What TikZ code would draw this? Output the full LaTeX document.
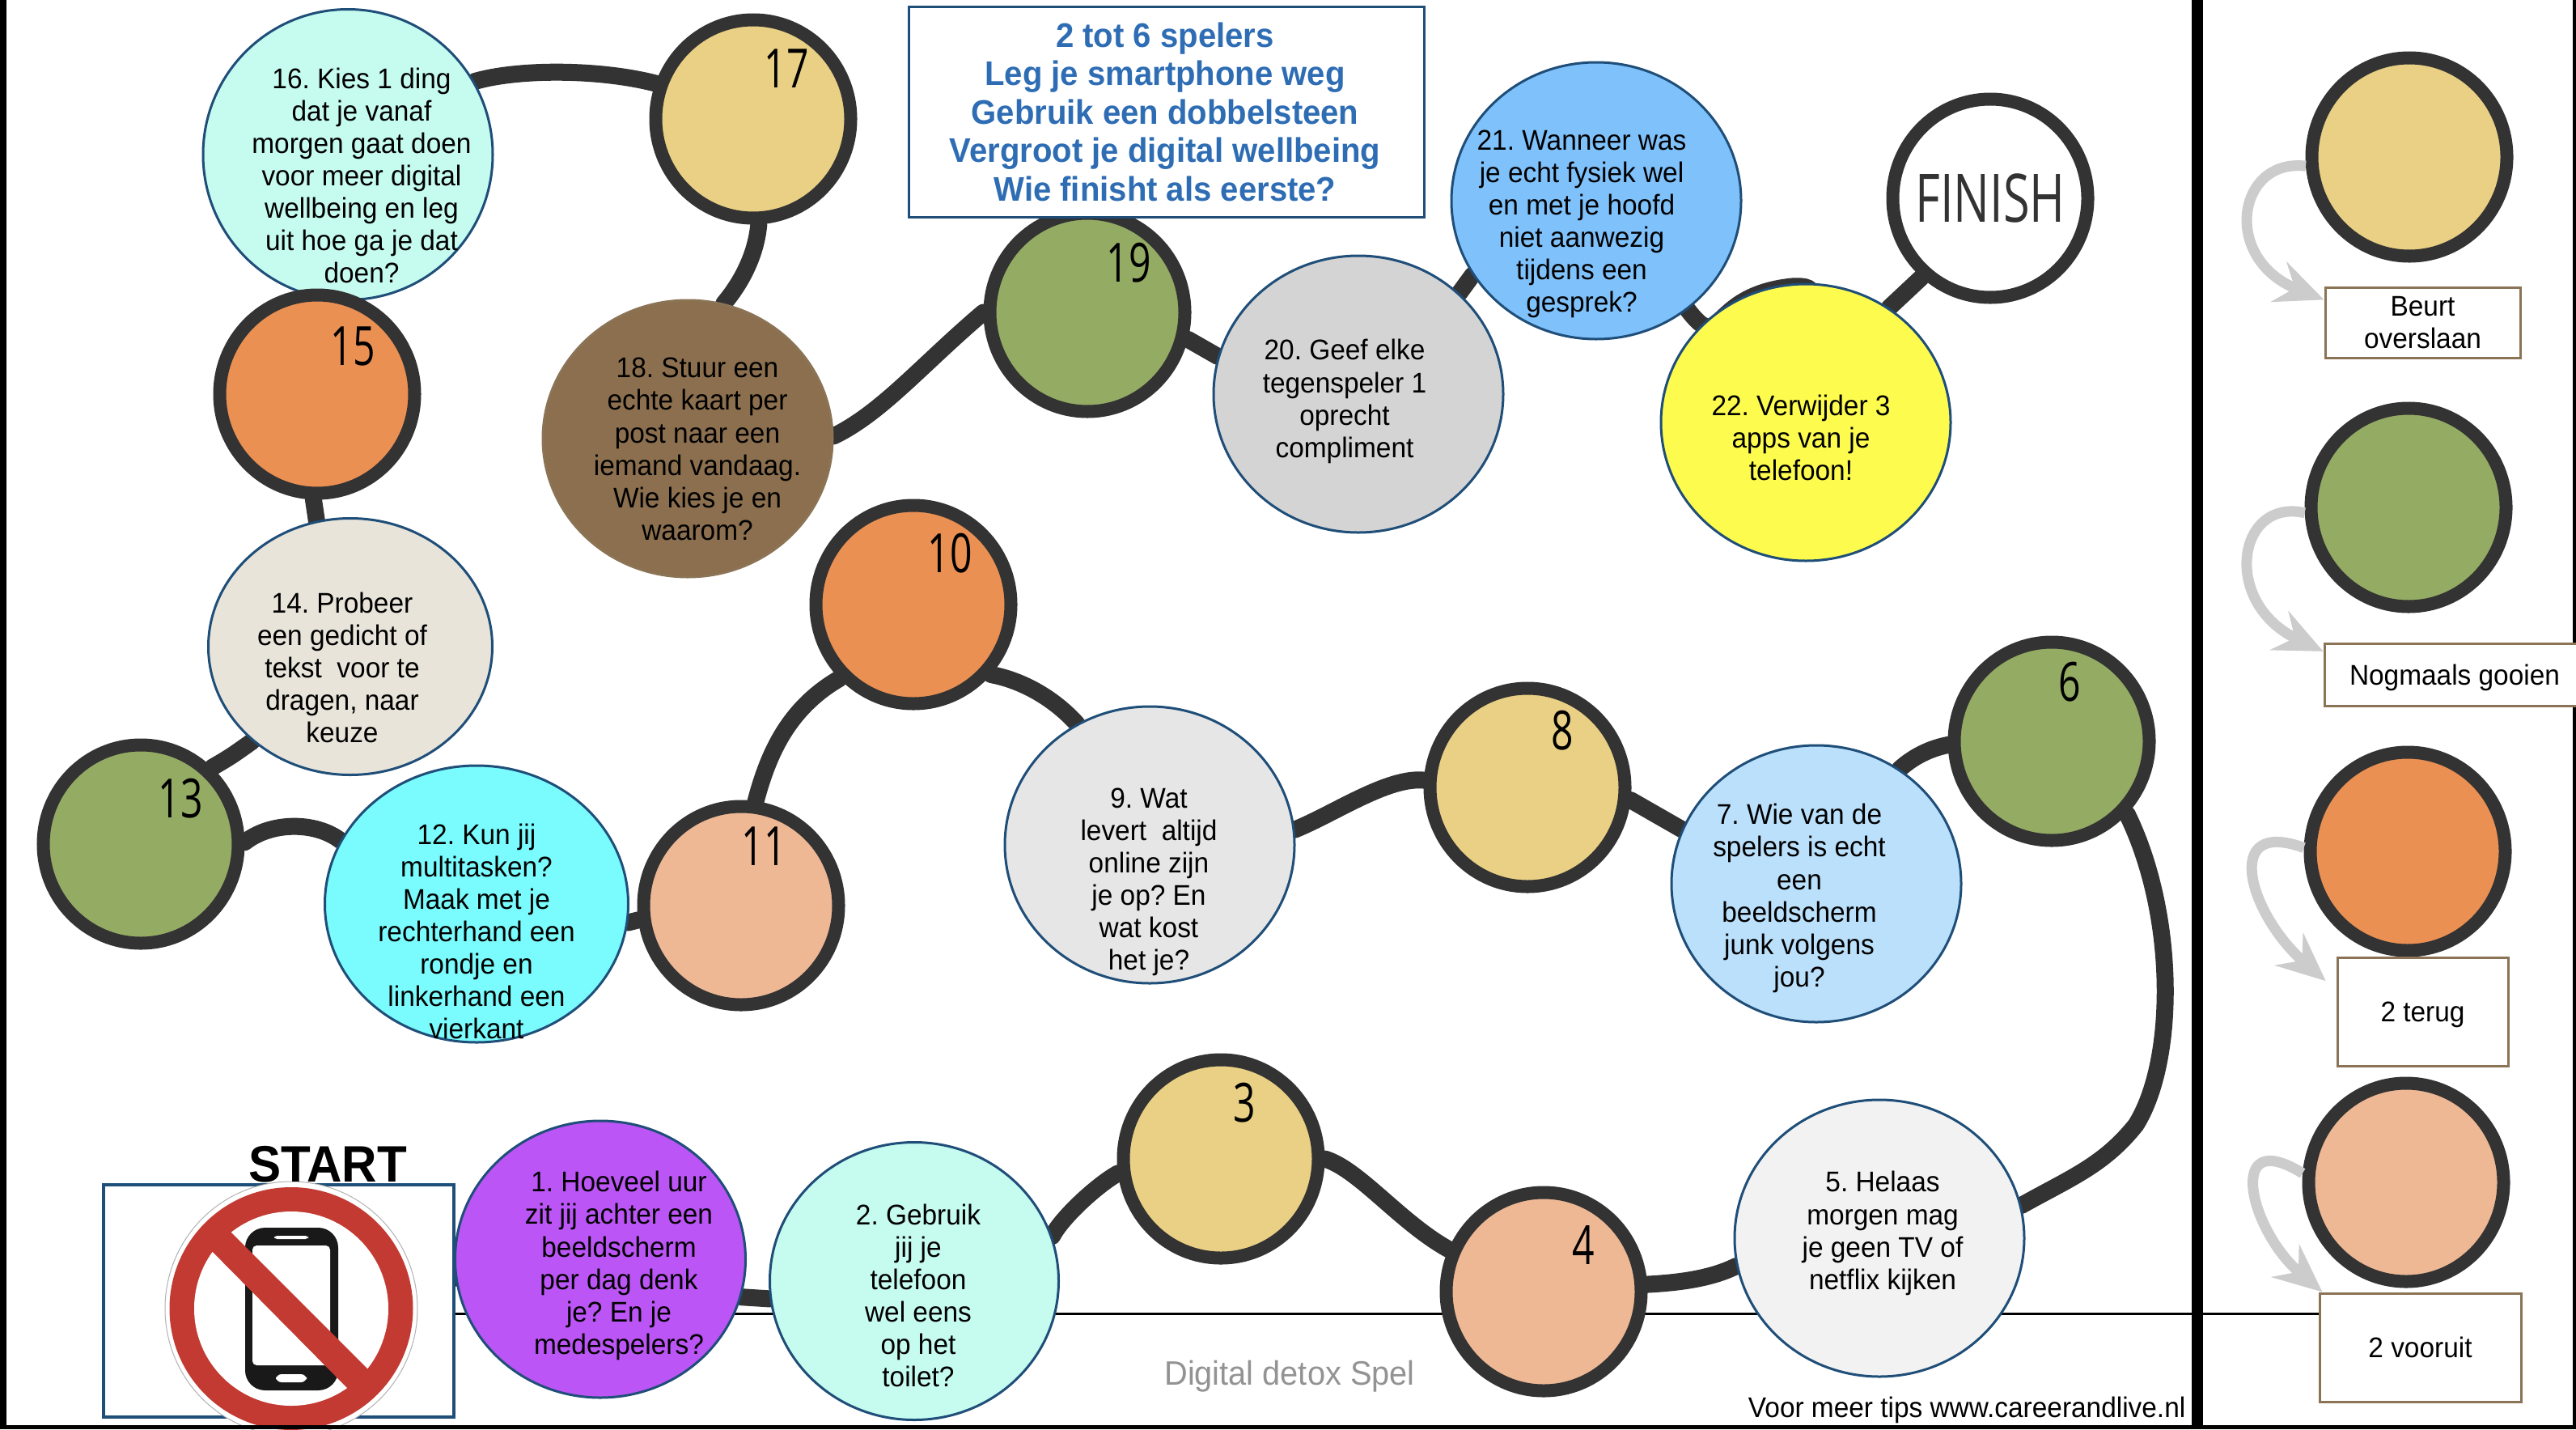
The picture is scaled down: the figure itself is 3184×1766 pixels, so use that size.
\documentclass[tikz,border=0pt]{standalone}
\usepackage{fontspec}
\setmainfont[FakeStretch=0.95]{Liberation Sans}
\newfontfamily\numfont[FakeStretch=0.72]{Open Sans}
\usetikzlibrary{arrows.meta,backgrounds,shapes.geometric}
\definecolor{trailgrey}{HTML}{333333}
\definecolor{linkgrey}{HTML}{CCCCCC}
\definecolor{framebrown}{HTML}{8B7355}
\definecolor{edgeblue}{HTML}{1F4E79}
\definecolor{titleblue}{HTML}{2E6DB4}
\definecolor{tokyellow}{HTML}{E9D084}
\definecolor{tokgreen}{HTML}{94AB64}
\definecolor{tokorange}{HTML}{EA9053}
\definecolor{toksalmon}{HTML}{EEB895}
\definecolor{signred}{HTML}{C33A32}
\frenchspacing
\tikzset{
  esize/.style 2 args={minimum width=#1*0.01cm, minimum height=#2*0.01cm},
  trail/.style={draw=trailgrey, line width=0.21cm, line cap=round},
  token/.style={ellipse, draw=trailgrey, line width=0.16cm, inner sep=0pt, esize={241}{245}},
  quest/.style={ellipse, draw=edgeblue, line width=0.03cm, inner sep=0pt, esize={358}{342}},
  qtext/.style={align=center, inner sep=0pt, font=\fontsize{10}{11.4}\selectfont},
  numtext/.style={inner sep=0pt, font=\numfont\fontsize{19}{19}\selectfont},
  keybox/.style={rectangle, draw=framebrown, fill=white, line width=0.03cm, inner sep=0pt, align=center,
    font=\fontsize{10}{11.4}\selectfont},
  keylink/.style={draw=linkgrey, line width=0.13cm, -{Stealth[length=17pt,width=15pt,inset=6pt]}},
}
\begin{document}
\begin{tikzpicture}[x=0.01cm, y=-0.01cm]
  \useasboundingbox (0,0) rectangle (3184,1766);

  \node[rectangle, draw=edgeblue, fill=white, line width=0.04cm, esize={433}{287}] (startbox) at (344.5,1607.5) {};
  \draw[gray!60, fill=white, line width=0.01cm] (360,1617) ellipse (156 and 157);
  \fill[signred] (360,1617) ellipse (150.5 and 150);
  \fill[white] (360,1617) ellipse (120 and 120);
  \fill[black!90, rounded corners=7pt] (303,1517) rectangle (418,1718);
  \fill[white, rounded corners=1.5pt] (312,1539) rectangle (408,1687);
  \fill[white, rounded corners=1pt] (339,1527) rectangle (381,1531);
  \fill[white, rounded corners=2pt] (341,1698) rectangle (379,1708);
  \fill[signred] (253,1537) -- (276,1513) -- (464,1701) -- (439,1725) -- cycle;
  \node[inner sep=0pt, font=\bfseries\fontsize{18}{18}\selectfont] (starttext) at (405,1439) {START};

  % question stops
  \node[quest, esize={359}{342}, fill={rgb,255:red,188;green,85;blue,245}] (e1) at (742,1556) {};
  \node[quest, esize={357}{343}, fill={rgb,255:red,198;green,251;blue,240}] (e2) at (1130,1583) {};
  \node[quest, fill={rgb,255:red,242;green,242;blue,242}] (e5) at (2323,1530) {};
  \node[quest, fill={rgb,255:red,187;green,224;blue,251}] (e7) at (2245,1092) {};
  \node[quest, fill={rgb,255:red,230;green,230;blue,230}] (e9) at (1421,1044) {};
  \node[quest, esize={375}{342}, fill={rgb,255:red,122;green,251;blue,253}] (e12) at (589,1117) {};
  \node[quest, esize={351}{317}, fill={rgb,255:red,232;green,228;blue,218}] (e14) at (433,799) {};
  \node[quest, esize={358}{359}, fill={rgb,255:red,198;green,251;blue,240}] (e16) at (430,191) {};
  \node[quest, draw=framebrown, fill={rgb,255:red,139;green,111;blue,78}] (e18) at (850,542) {};
  \node[quest, fill={rgb,255:red,212;green,212;blue,212}] (e20) at (1679,487) {};
  \node[quest, fill={rgb,255:red,127;green,193;blue,251}] (e21) at (1973,248) {};
  \node[quest, fill={rgb,255:red,253;green,252;blue,78}] (e22) at (2232,522) {};

  % coloured stops
  \node[token, fill=tokyellow] (t3) at (1509,1432) {};
  \node[token, fill=toksalmon] (t4) at (1908,1596) {};
  \node[token, fill=tokgreen] (t6) at (2536,916) {};
  \node[token, fill=tokyellow] (t8) at (1888,973) {};
  \node[token, fill=tokorange] (t10) at (1129,747) {};
  \node[token, fill=toksalmon] (t11) at (916,1119) {};
  \node[token, fill=tokgreen] (t13) at (174,1043) {};
  \node[token, fill=tokorange] (t15) at (392,487) {};
  \node[token, fill=tokyellow] (t17) at (931,147) {};
  \node[token, fill=tokgreen] (t19) at (1344,386) {};
  \node[token, fill=white] (finish) at (2460,245) {};

  \node[numtext] (n3) at (1538,1363) {3};
  \node[numtext] (n4) at (1957,1538) {4};
  \node[numtext] (n6) at (2558,843) {6};
  \node[numtext] (n8) at (1931,903) {8};
  \node[numtext] (n10) at (1174,684) {10};
  \node[numtext] (n11) at (944,1046) {11};
  \node[numtext] (n13) at (223,987) {13};
  \node[numtext] (n15) at (436,428) {15};
  \node[numtext] (n17) at (972,85) {17};
  \node[numtext] (n19) at (1395,325) {19};
  \node[inner sep=0pt, text=trailgrey, font=\numfont\fontsize{23.5}{24}\selectfont] (finishtext) at (2460,245) {FINISH};

  \node[qtext] (q1) at (765,1564) {1. Hoeveel uur\\zit jij achter een\\beeldscherm\\per dag denk\\je? En je\\medespelers?};
  \node[qtext] (q2) at (1135,1601) {2. Gebruik\\jij je\\telefoon\\wel eens\\op het\\toilet?};
  \node[qtext] (q5) at (2327,1524) {5. Helaas\\morgen mag\\je geen TV of\\netflix kijken};
  \node[qtext] (q7) at (2224,1110) {7. Wie van de\\spelers is echt\\een\\beeldscherm\\junk volgens\\jou?};
  \node[qtext] (q9) at (1420,1090) {9. Wat\\levert~ altijd\\online zijn\\je op? En\\wat kost\\het je?};
  \node[qtext] (q12) at (589,1151) {12. Kun jij\\multitasken?\\Maak met je\\rechterhand een\\rondje en\\linkerhand een\\vierkant};
  \node[qtext] (q14) at (423,825) {14. Probeer\\een gedicht of\\tekst~ voor te\\dragen, naar\\keuze};
  \node[qtext] (q16) at (447,217) {16. Kies 1 ding\\dat je vanaf\\morgen gaat doen\\voor meer digital\\wellbeing en leg\\uit hoe ga je dat\\doen?};
  \node[qtext] (q18) at (862,555) {18. Stuur een\\echte kaart per\\post naar een\\iemand vandaag.\\Wie kies je en\\waarom?};
  \node[qtext] (q20) at (1662,496) {20. Geef elke\\tegenspeler 1\\oprecht\\compliment};
  \node[qtext] (q21) at (1955,277) {21. Wanneer was\\je echt fysiek wel\\en met je hoofd\\niet aanwezig\\tijdens een\\gesprek?};
  \node[qtext] (q22) at (2226,541) {22. Verwijder 3\\apps van je\\telefoon!};

  \node[rectangle, draw=edgeblue, fill=white, line width=0.03cm, esize={637}{260}] (titlebox) at (1441.5,138) {};
  \node[inner sep=0pt, align=center, text=titleblue, font=\bfseries\fontsize{12}{13.5}\selectfont] (title) at (1440,138)
    {2 tot 6 spelers\\Leg je smartphone weg\\Gebruik een dobbelsteen\\Vergroot je digital wellbeing\\Wie finisht als eerste?};

  \node[inner sep=0pt, text=gray!85, font=\fontsize{11.9}{13}\selectfont] (spel) at (1594,1701) {Digital detox Spel};
  \node[inner sep=0pt, anchor=east, font=\fontsize{10}{12}\selectfont] (tips) at (2702,1742) {Voor meer tips www.careerandlive.nl};

  % key on the right
  \node[token, fill=tokyellow] (keyskip) at (2978,194) {};
  \node[token, fill=tokgreen] (keyagain) at (2977,627) {};
  \node[token, fill=tokorange] (keyback) at (2976,1052) {};
  \node[token, fill=toksalmon] (keyfwd) at (2974,1461) {};
  \node[keybox, esize={241}{87}] (boxskip) at (2994.5,398.5) {Beurt\\overslaan};
  \node[keybox, esize={322}{77}, text depth=0pt] (boxagain) at (3034,833.5) {Nogmaals gooien};
  \node[keybox, esize={211}{134}, text depth=0pt] (boxback) at (2994.5,1250) {2 terug};
  \node[keybox, esize={249}{134}] (boxfwd) at (2991.5,1665) {2 vooruit};
  \coordinate (rulestart) at (561,1623);
  \coordinate (ruleend) at (2866,1623);

  \begin{scope}[on background layer]
    \fill[white] (0,0) rectangle (3184,1766);
    \draw[black, line width=0.03cm] (rulestart) -- (ruleend);
    \fill[black] (2709,0) rectangle (2723,1766);
    \fill[black] (0,0) rectangle (8,1766);
    \fill[black] (3180,0) rectangle (3184,1766);

    \draw[trail] (startbox) -- (e1);
    \draw[trail] (e1.-15) -- (e2.187);
    \draw[trail] (e2.18) .. controls (1312,1505) and (1355,1465) .. (t3.188);
    \draw[trail] (t3.0) .. controls (1680,1445) and (1730,1510) .. (t4.156);
    \draw[trail] (t4.4) .. controls (2075,1585) and (2115,1580) .. (e5.191);
    \draw[trail] (e5.13) .. controls (2560,1455) and (2600,1440) .. (2640,1390) .. controls (2690,1310) and (2690,1130) .. (t6.-44);
    \draw[trail] (t6.182) .. controls (2385,925) and (2365,935) .. (e7.54);
    \draw[trail] (e7.158) -- (t8.-7);
    \draw[trail] (t8.176) .. controls (1715,960) and (1650,1005) .. (e9.6);
    \draw[trail] (e9.121) .. controls (1300,860) and (1260,840) .. (t10.-42);
    \draw[trail] (t10.225) .. controls (975,875) and (950,930) .. (t11.82);
    \draw[trail] (t11.188) -- (e12.-7);
    \draw[trail] (e12.155) .. controls (390,1015) and (335,1015) .. (t13.1);
    \draw[trail] (t13.47) .. controls (285,935) .. (e14.224);
    \draw[trail] (e14.105) -- (t15.268);
    \draw[trail] (t15) -- (e16);
    \draw[trail] (e16.center) .. controls (425,18) and (470,16) .. (510,42) .. controls (520,50) .. (e16.center);
    \draw[trail] (e16.30) .. controls (640,85) and (740,85) .. (t17.160);
    \draw[trail] (t17.273) .. controls (935,310) and (920,345) .. (e18.75);
    \draw[trail] (e18.1) .. controls (1090,510) and (1140,450) .. (t19.180);
    \draw[trail] (t19.-15) -- (e20.165);
    \draw[trail] (e20.45) -- (e21.211);
    \draw[trail] (e21.-50) .. controls (2130,440) and (2110,365) .. (2215,354) .. controls (2250,353) .. (e22.center);
    \draw[trail] (e22.54) -- (finish.229);
  \end{scope}

  \draw[keylink] (keyskip.185) .. controls (2765,195) and (2745,320) .. (boxskip.167);
  \draw[keylink] (keyagain.183) .. controls (2765,615) and (2745,745) .. (boxagain.170);
  \draw[keylink, shorten >=0.17cm] (keyback.178) .. controls (2745,1010) and (2780,1130) .. (boxback.166);
  \draw[keylink] (keyfwd.175) .. controls (2750,1390) and (2780,1520) .. ([xshift=0.05cm]boxfwd.north west);

  \fill[black] (0,1761) rectangle (3184,1766);
\end{tikzpicture}
\end{document}
